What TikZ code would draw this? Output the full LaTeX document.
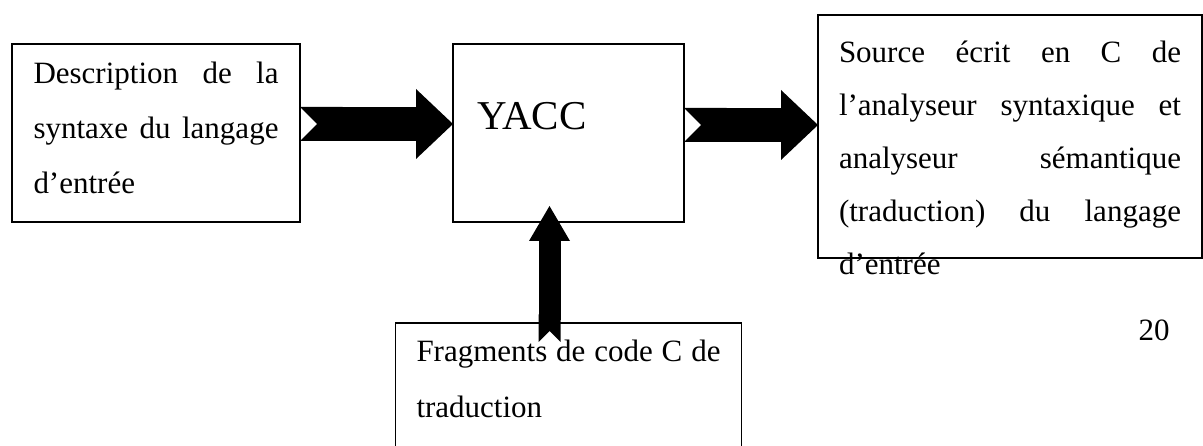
\documentclass[tikz,border=0pt]{standalone}
\usepackage{fontspec}
\setmainfont{Liberation Serif}
\usetikzlibrary{positioning, arrows.meta}
\tikzstyle{box} = [rectangle, draw=black, line width=1.6pt, outer sep=0pt, inner ysep=0pt, align=justify, font=\fontsize{31}{55}\selectfont]
\tikzstyle{bigarrow} = [line width=34pt, {Triangle Cap[reversed]}-{Triangle[width=70pt, length=37pt, line width=0pt]}]
\tikzstyle{smallarrow} = [line width=22pt, {Triangle Cap[reversed]}-{Triangle[width=41pt, length=35pt, line width=0pt]}]

\begin{document}
\begin{tikzpicture}
\useasboundingbox (0,0) rectangle (1203pt,-446pt);
\node (desc) [box, inner xsep=21.5pt, text width=245pt, text height=40pt, text depth=138pt] at (156pt,-133pt) {Description de la\linebreak syntaxe du langage\linebreak d'entrée};
\node (yacc) [box, align=left, inner xsep=24pt, text width=183pt, text height=86pt, text depth=92pt, font=\fontsize{41}{49}\selectfont, right=153pt of desc] {YACC};
\node (src) [box, inner xsep=21pt, text width=342pt, text height=48pt, text depth=195pt, font=\fontsize{31}{53}\selectfont, right=134pt of yacc, yshift=-3.5pt] {Source écrit en C de\linebreak l'analyseur syntaxique et\linebreak analyseur sémantique\linebreak (traduction) du langage\linebreak d'entrée};
\node (frag) [box, inner xsep=21pt, text width=304pt, text height=39pt, text depth=160pt, font=\fontsize{31}{56}\selectfont, below=101pt of yacc] {Fragments de code C de\linebreak traduction};
\node (pagenum) [anchor=base west, font=\fontsize{31}{37}\selectfont] at ([xshift=-67pt,yshift=-83pt]src.south east) {20};
\draw [bigarrow] ([yshift=9pt]desc.east) -- ([yshift=9pt]yacc.west);
\draw [bigarrow] ([yshift=8pt]yacc.east) -- ([yshift=8pt]yacc.east -| src.west);
\draw [smallarrow] ([xshift=-19pt,yshift=-19pt]frag.north) -- ([xshift=-19pt,yshift=16pt]yacc.south);
\end{tikzpicture}
\end{document}
